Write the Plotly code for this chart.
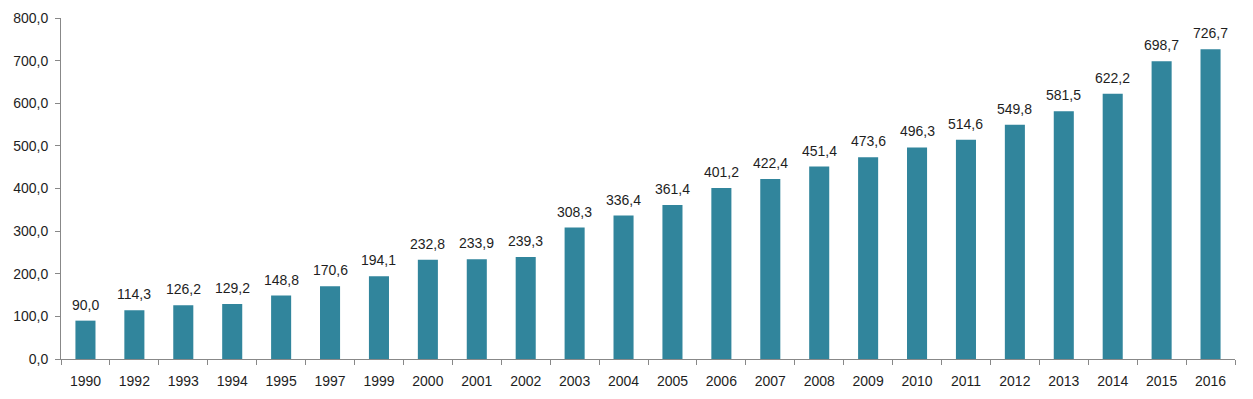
import plotly.graph_objects as go

years = ["1990", "1992", "1993", "1994", "1995", "1997", "1999", "2000", "2001", "2002",
         "2003", "2004", "2005", "2006", "2007", "2008", "2009", "2010", "2011", "2012",
         "2013", "2014", "2015", "2016"]
values = [90.0, 114.3, 126.2, 129.2, 148.8, 170.6, 194.1, 232.8, 233.9, 239.3,
          308.3, 336.4, 361.4, 401.2, 422.4, 451.4, 473.6, 496.3, 514.6, 549.8,
          581.5, 622.2, 698.7, 726.7]
y_ticks = [0, 100, 200, 300, 400, 500, 600, 700, 800]

font_family = "Liberation Sans, Arial, sans-serif"
text_color = "#1e1e1e"

fig = go.Figure(go.Bar(
    x=years, y=values,
    marker=dict(color="#31859C", line=dict(width=0)),
    hoverinfo="x+y",
))

for i, v in enumerate(values):
    fig.add_annotation(
        x=i, y=v, text=f"{v:.1f}".replace(".", ","),
        showarrow=False, yanchor="bottom", xanchor="center", yshift=6,
        font=dict(size=14, color=text_color, family=font_family),
    )

fig.update_layout(
    width=1237, height=383,
    margin=dict(l=53, r=10, t=10, b=32),
    plot_bgcolor="white", paper_bgcolor="white",
    separators=",.",
    bargap=0.59,
    showlegend=False,
    font=dict(family=font_family, size=14, color=text_color),
)
fig.update_xaxes(
    type="category", range=[-0.5, len(years) - 0.5],
    showline=True, linecolor="#888888", linewidth=1,
    ticks="outside", tickson="boundaries", ticklen=5, tickcolor="#888888",
    showgrid=False, tickfont=dict(size=14, color=text_color), automargin=False,
    ticklabelstandoff=9,
)
fig.update_yaxes(
    range=[0, 800], tickvals=y_ticks, tickformat=".1f",
    showline=True, linecolor="#888888", linewidth=1,
    ticks="outside", ticklen=5, tickcolor="#888888",
    showgrid=False, zeroline=False, tickfont=dict(size=14, color=text_color),
    automargin=False, ticklabelstandoff=4,
)

fig.write_html("out.html")
